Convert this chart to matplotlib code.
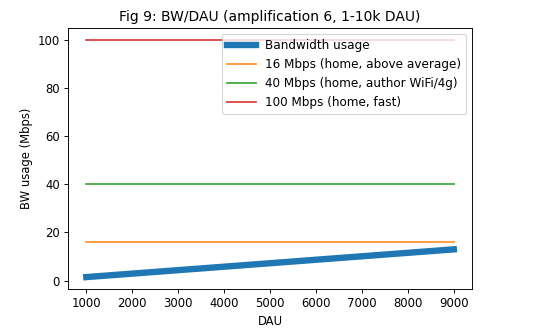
import matplotlib
matplotlib.use("Agg")
import matplotlib.pyplot as plt

# daily active users and resulting bandwidth (Mbps)
dau = [1000, 2000, 3000, 4000, 5000, 6000, 7000, 8000, 9000]
bw_usage = [1.44, 2.88, 4.32, 5.76, 7.2, 8.64, 10.08, 11.52, 12.96]

# reference connection speeds (Mbps)
speeds = [16, 40, 100]
speed_labels = ["16 Mbps (home, above average)",
                "40 Mbps (home, author WiFi/4g)",
                "100 Mbps (home, fast)"]
speed_colors = ["#ff8f2e", "#3aa83a", "#dc3b3c"]

dpi = 83.5
fig = plt.figure(figsize=(539 / dpi, 336 / dpi), dpi=dpi)
ax = fig.add_axes([0.126, 0.140, 0.750, 0.777])

ax.plot(dau, bw_usage, linewidth=5.5, color="#1f77b4", label="Bandwidth usage")
for s, lab, c in zip(speeds, speed_labels, speed_colors):
    ax.plot(dau, [s] * len(dau), color=c, label=lab)

ax.set_xticks(dau)
ax.set_xlabel("DAU")
ax.set_ylabel("BW usage (Mbps)")
ax.set_title("Fig 9: BW/DAU (amplification 6, 1-10k DAU)")
ax.legend(loc="upper right", fontsize=10.4, handlelength=2.4)

fig.savefig("out.png", dpi=dpi)
